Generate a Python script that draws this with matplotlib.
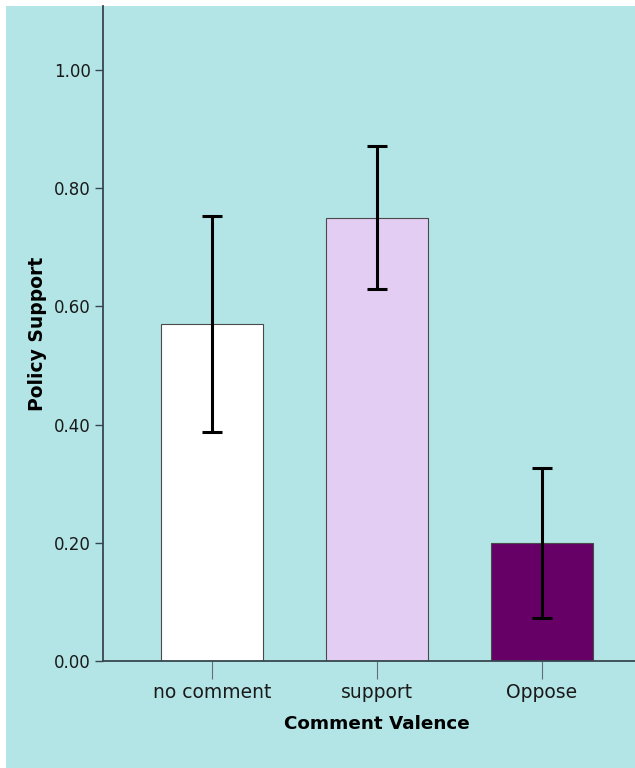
import matplotlib
matplotlib.use("Agg")
import matplotlib.pyplot as plt
from matplotlib.patches import Rectangle

plt.rcParams['font.family'] = ['DejaVu Sans']

categories = ["no comment", "support", "Oppose"]
means = [0.57, 0.75, 0.20]
errors = [0.183, 0.121, 0.127]
bar_colors = ["#ffffff", "#e4cdf2", "#660066"]
yticks = [0.00, 0.20, 0.40, 0.60, 0.80, 1.00]

BG = "#b3e5e6"
W, H = 635, 768
fig = plt.figure(figsize=(W / 100, H / 100), dpi=100)
fig.patches.append(Rectangle((6 / W, 0), 1 - 6 / W, 1 - 6 / H,
                             transform=fig.transFigure, facecolor=BG,
                             edgecolor="none", zorder=-10))

# the plotting area runs slightly past the right edge of the canvas
ax = fig.add_axes([103 / W, (H - 661) / H, (651 - 103) / W, (661 - 6) / H])
ax.set_facecolor(BG)

x = list(range(len(categories)))
ax.bar(x, means, width=0.615, color=bar_colors, edgecolor="#4a4a4a",
       linewidth=0.8, zorder=2)
ax.errorbar(x, means, yerr=errors, fmt="none", ecolor="black",
            elinewidth=2.2, capsize=7, capthick=2.2, zorder=3)

ax.set_xlim(-0.66, 2.66)
ax.set_ylim(0, 1.108)
ax.set_yticks(yticks)
ax.set_yticklabels([f"{v:.2f}" for v in yticks], fontsize=12, color="#1a1a1a")
ax.set_xticks(x)
ax.set_xticklabels(categories, fontsize=13.5, color="#1a1a1a")

for side in ("top", "right"):
    ax.spines[side].set_visible(False)
for side in ("left", "bottom"):
    ax.spines[side].set_color("#37474f")
    ax.spines[side].set_linewidth(1.3)

ax.tick_params(axis="y", length=6, width=1, color="#37474f", pad=3)
ax.tick_params(axis="x", length=13, width=0.8, color="#5f6f75", pad=3)

ax.set_xlabel("Comment Valence", fontsize=13.2, fontweight="bold", labelpad=9)
ax.set_ylabel("Policy Support", fontsize=13.5, fontweight="bold", labelpad=5)

fig.savefig("out.png", dpi=100)
